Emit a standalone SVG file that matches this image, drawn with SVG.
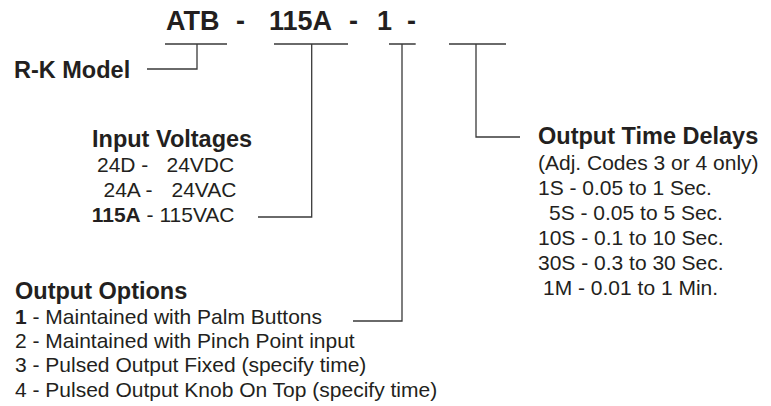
<svg xmlns="http://www.w3.org/2000/svg" width="771" height="406" viewBox="0 0 771 406">
<style>
text{font-family:"Liberation Sans",Arial,sans-serif;fill:#231f20}
.t{font-size:27px;font-weight:bold}
.h{font-size:23.5px;font-weight:bold}
.b{font-size:21px}
.bb{font-weight:bold}
.c{fill:none;stroke:#3a3a3a;stroke-width:1.3}
</style>
<rect width="771" height="406" fill="#fff"/>
<g id="title">
<text class="t" y="29.5"><tspan x="166">ATB</tspan><tspan x="236">-</tspan><tspan x="269">115A</tspan><tspan x="349">-</tspan><tspan x="377">1</tspan><tspan x="407">-</tspan></text>
</g>
<g id="connectors">
<path class="c" d="M165 44H227M197 44V69H147"/>
<path class="c" d="M274 44H348M311.7 44V217H258"/>
<path class="c" d="M389 44H415.7M402 44V321H353"/>
<path class="c" d="M449 44H506M476 44V137H520"/>
</g>
<g id="rk-model">
<text class="h" x="14" y="77.5">R-K Model</text>
</g>
<g id="input-voltages">
<text class="h" x="92" y="146.5">Input Voltages</text>
<text class="b" y="172"><tspan x="97">24D -</tspan><tspan x="166.5">24VDC</tspan></text>
<text class="b" y="196.5"><tspan x="103.5">24A -</tspan><tspan x="171.5">24VAC</tspan></text>
<text class="b" x="91.7" y="221.5"><tspan class="bb">115A</tspan> - 115VAC</text>
</g>
<g id="output-options">
<text class="h" x="15" y="298.5">Output Options</text>
<text class="b" x="15" y="323.5"><tspan class="bb">1</tspan> - Maintained with Palm Buttons</text>
<text class="b" x="15" y="348">2 - Maintained with Pinch Point input</text>
<text class="b" x="15" y="372">3 - Pulsed Output Fixed (specify time)</text>
<text class="b" x="15" y="396.5">4 - Pulsed Output Knob On Top (specify time)</text>
</g>
<g id="output-time-delays">
<text class="h" x="538" y="143.5">Output Time Delays</text>
<text class="b" x="538" y="170">(Adj. Codes 3 or 4 only)</text>
<text class="b" x="538" y="195">1S - 0.05 to 1 Sec.</text>
<text class="b" x="549" y="220">5S - 0.05 to 5 Sec.</text>
<text class="b" x="538" y="245">10S - 0.1 to 10 Sec.</text>
<text class="b" x="538" y="270">30S - 0.3 to 30 Sec.</text>
<text class="b" x="543" y="295">1M - 0.01 to 1 Min.</text>
</g>
</svg>
